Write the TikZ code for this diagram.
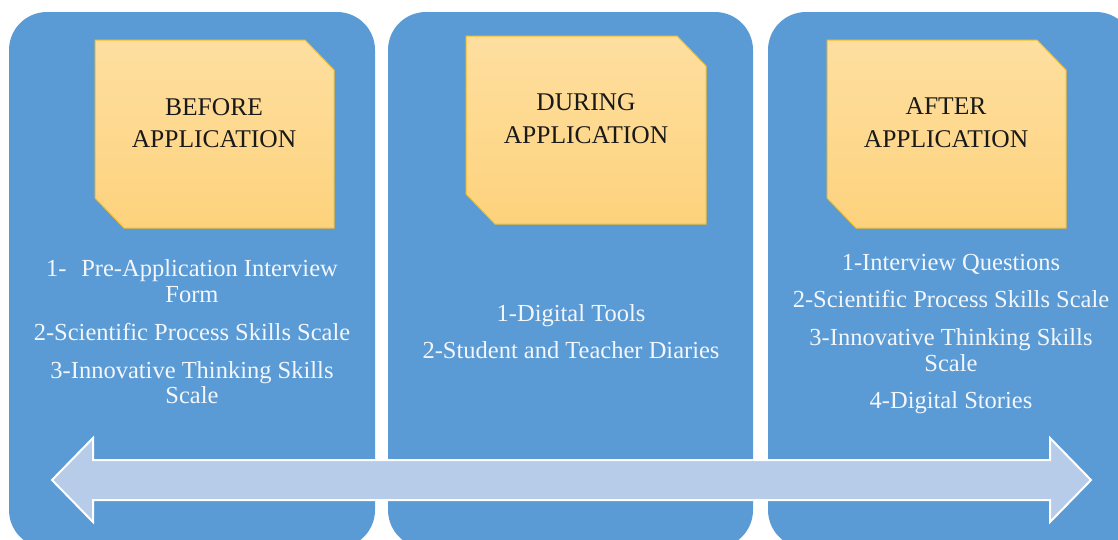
\documentclass[tikz,border=0pt]{standalone}
\usepackage{fontspec}
\setmainfont{Liberation Serif}
\definecolor{panelblue}{HTML}{5B9BD5}
\definecolor{boxtop}{HTML}{FEDFA0}
\definecolor{boxbot}{HTML}{FDD27C}
\definecolor{boxedge}{HTML}{F2BE2C}
\definecolor{arrowfill}{HTML}{B7CCE8}
\definecolor{bodytext}{HTML}{F3F6FB}
\begin{document}
\begin{tikzpicture}[x=1pt,y=-1pt,
  panel/.style={fill=panelblue, rounded corners=38pt},
  phase/.style={top color=boxtop,bottom color=boxbot,draw=boxedge,line width=1pt},
  title/.style={anchor=base,font=\fontsize{25.5}{30}\selectfont,text=black!90,inner sep=0pt},
  item/.style={anchor=base,font=\fontsize{24.5}{26}\selectfont,text=bodytext,inner sep=0pt},
  timeline/.style={fill=arrowfill,draw=white,line width=2pt,line join=miter}]
\useasboundingbox (0,0) rectangle (1118,539);
\clip (0,0) rectangle (1118,539);
% panels
\fill[panel] (9,12) rectangle (375,548);
\fill[panel] (388,12) rectangle (753,548);
\fill[panel] (768,12) rectangle (1134,548);
% phase boxes
\draw[phase] (95,40) -- (305,40) -- (334,70) -- (334,228) -- (124,228) -- (95,198) -- cycle;
\draw[phase] (466,36) -- (677,36) -- (706,66) -- (706,224) -- (495,224) -- (466,194) -- cycle;
\draw[phase] (827,40) -- (1037,40) -- (1066,70) -- (1066,228) -- (856,228) -- (827,198) -- cycle;
% timeline arrow
\draw[timeline] (52,480) -- (93,438) -- (93,460) -- (1050,460) -- (1050,438) -- (1091,480)
  -- (1050,522) -- (1050,500) -- (93,500) -- (93,522) -- cycle;
% titles
\node[title] (before1) at (214,115) {BEFORE};
\node[title] (before2) at (214,147) {APPLICATION};
\node[title] (during1) at (586,110) {DURING};
\node[title] (during2) at (586,143) {APPLICATION};
\node[title] (after1) at (946,114) {AFTER};
\node[title] (after2) at (946,147) {APPLICATION};
% before items
\node[item] (b1a) at (192,276) {1-\hspace{0.35em} Pre-Application Interview};
\node[item] (b1b) at (192,302) {Form};
\node[item] (b2) at (192,340) {2-Scientific Process Skills Scale};
\node[item] (b3a) at (192,378) {3-Innovative Thinking Skills};
\node[item] (b3b) at (192,403) {Scale};
% during items
\node[item] (d1) at (571,321) {1-Digital Tools};
\node[item] (d2) at (571,358) {2-Student and Teacher Diaries};
% after items
\node[item] (a1) at (951,270) {1-Interview Questions};
\node[item] (a2) at (951,307) {2-Scientific Process Skills Scale};
\node[item] (a3a) at (951,345) {3-Innovative Thinking Skills};
\node[item] (a3b) at (951,371) {Scale};
\node[item] (a4) at (951,408) {4-Digital Stories};
\end{tikzpicture}
\end{document}
